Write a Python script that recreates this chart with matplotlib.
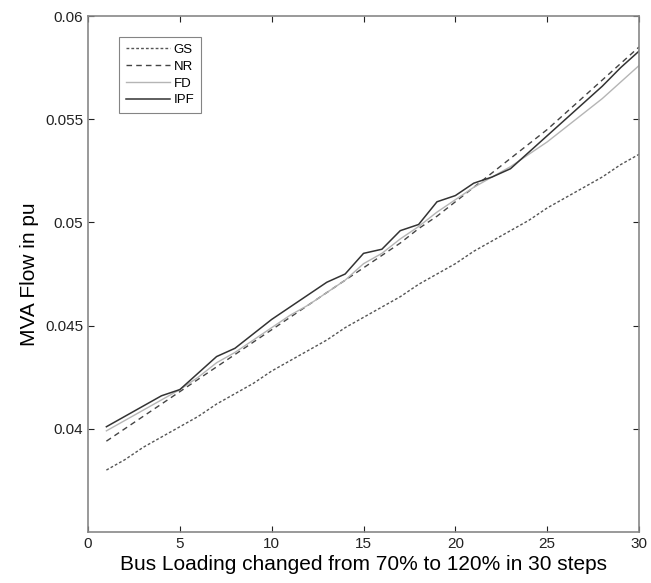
"""MVA flow vs bus loading for four load-flow methods."""
import numpy as np
import matplotlib; matplotlib.use("Agg")
import matplotlib.pyplot as plt

plt.rcParams['font.family'] = ['Liberation Sans', 'DejaVu Sans']

steps = list(range(1, 31))
gs = [0.0380, 0.0385, 0.0391, 0.0396, 0.0401, 0.0406, 0.0412, 0.0417, 0.0422, 0.0428,
      0.0433, 0.0438, 0.0443, 0.0449, 0.0454, 0.0459, 0.0464, 0.0470, 0.0475, 0.0480,
      0.0486, 0.0491, 0.0496, 0.0501, 0.0507, 0.0512, 0.0517, 0.0522, 0.0528, 0.0533]
nr = [0.0394, 0.0400, 0.0406, 0.0412, 0.0418, 0.0424, 0.0430, 0.0436, 0.0442, 0.0448,
      0.0454, 0.0460, 0.0466, 0.0472, 0.0478, 0.0484, 0.0490, 0.0497, 0.0503, 0.0510,
      0.0517, 0.0524, 0.0531, 0.0538, 0.0545, 0.0553, 0.0561, 0.0569, 0.0577, 0.0585]
fd = [0.0399, 0.0404, 0.0409, 0.0414, 0.0419, 0.0425, 0.0432, 0.0437, 0.0443, 0.0449,
      0.0455, 0.0460, 0.0466, 0.0472, 0.0480, 0.0485, 0.0492, 0.0498, 0.0505, 0.0511,
      0.0517, 0.0522, 0.0527, 0.0533, 0.0539, 0.0546, 0.0553, 0.0560, 0.0568, 0.0576]
ipf = [0.0401, 0.0406, 0.0411, 0.0416, 0.0419, 0.0427, 0.0435, 0.0439, 0.0446, 0.0453,
       0.0459, 0.0465, 0.0471, 0.0475, 0.0485, 0.0487, 0.0496, 0.0499, 0.0510, 0.0513,
       0.0519, 0.0522, 0.0526, 0.0534, 0.0542, 0.0550, 0.0558, 0.0566, 0.0575, 0.0583]

fig = plt.figure(figsize=(6.51, 5.83), dpi=100)
fig.patch.set_facecolor("white")
ax = fig.add_axes([0.1352, 0.0875, 0.8464, 0.885])

ax.plot(steps, gs, color='#555555', linewidth=1.0, linestyle=(0, (2, 1.5)), label='GS')
ax.plot(steps, nr, color='#444444', linewidth=1.0, linestyle=(0, (4, 3)), label='NR')
ax.plot(steps, fd, color='#b5b5b5', linewidth=1.0, linestyle='-', label='FD')
ax.plot(steps, ipf, color='#333333', linewidth=1.1, linestyle='-', label='IPF')

ax.set_xlim(0, 30)
ax.set_ylim(0.035, 0.06)
ax.set_xticks([0, 5, 10, 15, 20, 25, 30])
ax.set_yticks([0.04, 0.045, 0.05, 0.055, 0.06])
ax.set_yticklabels(['0.04', '0.045', '0.05', '0.055', '0.06'])
ax.tick_params(direction='in', length=4, width=0.8, colors='#222222', labelsize=11,
               top=True, right=True)
for s in ax.spines.values():
    s.set_color('#888888'); s.set_linewidth(1.2)

ax.set_xlabel('Bus Loading changed from 70% to 120% in 30 steps', fontsize=15, labelpad=3)
ax.set_ylabel('MVA Flow in pu', fontsize=15, labelpad=4)

leg = ax.legend(loc='upper left', bbox_to_anchor=(0.045, 0.972), fontsize=9.5,
                frameon=True, fancybox=False, handlelength=3.3, handletextpad=0.3,
                borderpad=0.5, labelspacing=0.35)
leg.get_frame().set_edgecolor('#666666'); leg.get_frame().set_linewidth(0.8)

plt.savefig('out.png', dpi=100, facecolor='white')
plt.close(fig)
